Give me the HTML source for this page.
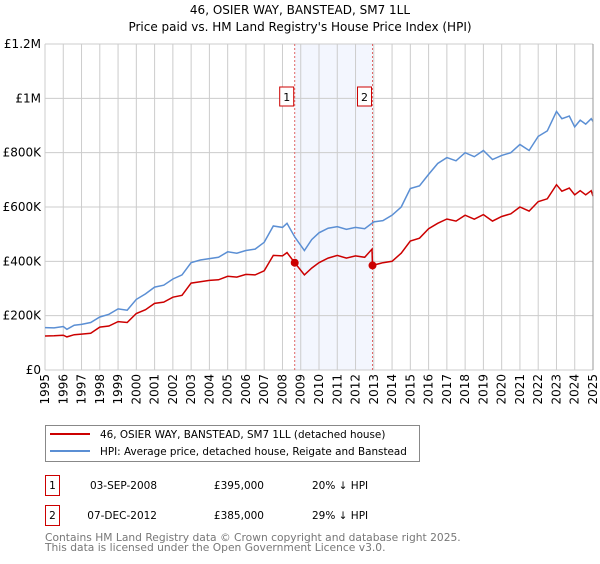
<!DOCTYPE html>
<html><head><meta charset="utf-8"><style>
body{margin:0;background:#fff;width:600px;height:560px;overflow:hidden;font-family:"DejaVu Sans","Liberation Sans",sans-serif;}
</style></head><body>
<svg id="chart" width="600" height="560" xmlns="http://www.w3.org/2000/svg" font-family="DejaVu Sans, Liberation Sans, sans-serif">
<text x="300" y="14" text-anchor="middle" font-size="12">46, OSIER WAY, BANSTEAD, SM7 1LL</text>
<text x="300" y="31" text-anchor="middle" font-size="12">Price paid vs. HM Land Registry's House Price Index (HPI)</text>
<g id="plot"></g>
<g>
<rect x="45.5" y="425.5" width="374" height="36" fill="#fff" stroke="#888"/>
<line x1="50" y1="434" x2="90" y2="434" stroke="#cc0000" stroke-width="2"/>
<text x="100" y="438" font-size="10.4">46, OSIER WAY, BANSTEAD, SM7 1LL (detached house)</text>
<line x1="50" y1="451" x2="90" y2="451" stroke="#5b8fd4" stroke-width="2"/>
<text x="100" y="455" font-size="10.4">HPI: Average price, detached house, Reigate and Banstead</text>
</g>
<g font-size="10.5">
<rect x="45.5" y="475.5" width="14" height="20" fill="#fff" stroke="#cc0000"/>
<text x="52.5" y="489" text-anchor="middle">1</text>
<text x="157" y="489" text-anchor="end">03-SEP-2008</text>
<text x="264" y="489" text-anchor="end">£395,000</text>
<text x="312" y="489">20% ↓ HPI</text>
<rect x="45.5" y="505.5" width="14" height="20" fill="#fff" stroke="#cc0000"/>
<text x="52.5" y="519" text-anchor="middle">2</text>
<text x="157" y="519" text-anchor="end">07-DEC-2012</text>
<text x="264" y="519" text-anchor="end">£385,000</text>
<text x="312" y="519">29% ↓ HPI</text>
</g>
<text x="45" y="541" font-size="10.7" fill="#777">Contains HM Land Registry data © Crown copyright and database right 2025.</text>
<text x="45" y="551" font-size="10.7" fill="#777">This data is licensed under the Open Government Licence v3.0.</text>
</svg>
<script>
const hpiYears=[1995,1995.5,1996,1996.2,1996.6,1997,1997.5,1998,1998.5,1999,1999.5,2000,2000.5,2001,2001.5,2002,2002.5,2003,2003.5,2004,2004.5,2005,2005.5,2006,2006.5,2007,2007.5,2008,2008.25,2008.67,2009.2,2009.6,2010,2010.5,2011,2011.5,2012,2012.5,2013,2013.5,2014,2014.5,2015,2015.5,2016,2016.5,2017,2017.5,2018,2018.5,2019,2019.5,2020,2020.5,2021,2021.5,2022,2022.5,2023,2023.3,2023.7,2024,2024.3,2024.6,2024.9,2025];
const hpiValues=[156,155,160,150,165,168,175,195,205,225,220,260,280,305,312,335,350,395,405,410,415,435,430,440,445,470,530,525,540,490,440,480,505,522,528,518,525,520,545,550,570,600,668,678,720,760,782,770,800,785,808,775,790,800,830,808,860,880,952,925,935,895,920,905,925,915];
const priceYears=[1995,1995.5,1996,1996.2,1996.6,1997,1997.5,1998,1998.5,1999,1999.5,2000,2000.5,2001,2001.5,2002,2002.5,2003,2003.5,2004,2004.5,2005,2005.5,2006,2006.5,2007,2007.5,2008,2008.25,2008.67,2009.2,2009.6,2010,2010.5,2011,2011.5,2012,2012.5,2012.9,2012.93,2013.5,2014,2014.5,2015,2015.5,2016,2016.5,2017,2017.5,2018,2018.5,2019,2019.5,2020,2020.5,2021,2021.5,2022,2022.5,2023,2023.3,2023.7,2024,2024.3,2024.6,2024.9,2025];
const priceValues=[125,126,128,122,130,132,135,158,162,178,175,208,222,245,250,268,275,320,325,330,332,345,342,352,350,365,422,420,432,395,350,375,395,412,422,412,420,415,445,385,395,400,430,475,485,520,540,556,548,570,555,572,548,565,575,600,585,620,630,682,658,670,645,660,645,660,640];
const saleYears=[2008.67,2012.93];
const saleValues=[395,385];
const saleLabels=["1","2"];
const yTicks=[0,200,400,600,800,1000,1200];
const yTickLabels=["£0","£200K","£400K","£600K","£800K","£1M","£1.2M"];
const xTicks=[1995,1996,1997,1998,1999,2000,2001,2002,2003,2004,2005,2006,2007,2008,2009,2010,2011,2012,2013,2014,2015,2016,2017,2018,2019,2020,2021,2022,2023,2024,2025];

const X0=45,X1=593,Y0=370,Y1=44;
const xs=y=>X0+(y-1995)/30*(X1-X0);
const ys=v=>Y0-v/1200*(Y0-Y1);
const NS="http://www.w3.org/2000/svg";
const g=document.getElementById('plot');
function mk(t,a){const e=document.createElementNS(NS,t);for(const k in a)e.setAttribute(k,a[k]);g.appendChild(e);return e;}
let e;
e=mk('rect',{x:xs(saleYears[0]),y:Y1,width:xs(saleYears[1])-xs(saleYears[0]),height:Y0-Y1,fill:'#f3f6fe'});


yTicks.forEach((v,i)=>{
 e=mk('line',{x1:X0,x2:X1,y1:ys(v),y2:ys(v),stroke:'#ccc'});
 
 
 e=mk('text',{x:X0-4,y:ys(v)+4,'text-anchor':'end','font-size':12});
 e.textContent=yTickLabels[i];
 
 
});
xTicks.forEach(t=>{
 e=mk('line',{x1:xs(t),x2:xs(t),y1:Y1,y2:Y0,stroke:'#ccc'});
 
 
 e=mk('text',{transform:`translate(${xs(t)+4},${Y0+4}) rotate(-90)`,'text-anchor':'end','font-size':12});
 e.textContent=t;
 
 
});
saleYears.forEach((s,i)=>{
 e=mk('line',{x1:xs(s),x2:xs(s),y1:Y1,y2:Y0,stroke:'#e06666','stroke-dasharray':'2,2'});
 
 
 e=mk('rect',{x:xs(s)-15,y:87,width:14,height:19,fill:'#fff',stroke:'#cc0000'});
 
 
 e=mk('text',{x:xs(s)-8,y:101,'text-anchor':'middle','font-size':11});
 e.textContent=saleLabels[i];
 
 
});
function path(xa,va){return xa.map((x,i)=>(i?'L':'M')+xs(x).toFixed(1)+','+ys(va[i]).toFixed(1)).join('');}
e=mk('path',{d:path(hpiYears,hpiValues),fill:'none',stroke:'#5b8fd4','stroke-width':1.5});


e=mk('path',{d:path(priceYears,priceValues),fill:'none',stroke:'#cc0000','stroke-width':1.5});


saleYears.forEach((s,i)=>{
 e=mk('circle',{cx:xs(s),cy:ys(saleValues[i]),r:4,fill:'#cc0000'});
 
 
});
e=mk('line',{x1:X1,x2:X1,y1:Y1,y2:Y0,stroke:'#999'});


</script>
</body></html>
